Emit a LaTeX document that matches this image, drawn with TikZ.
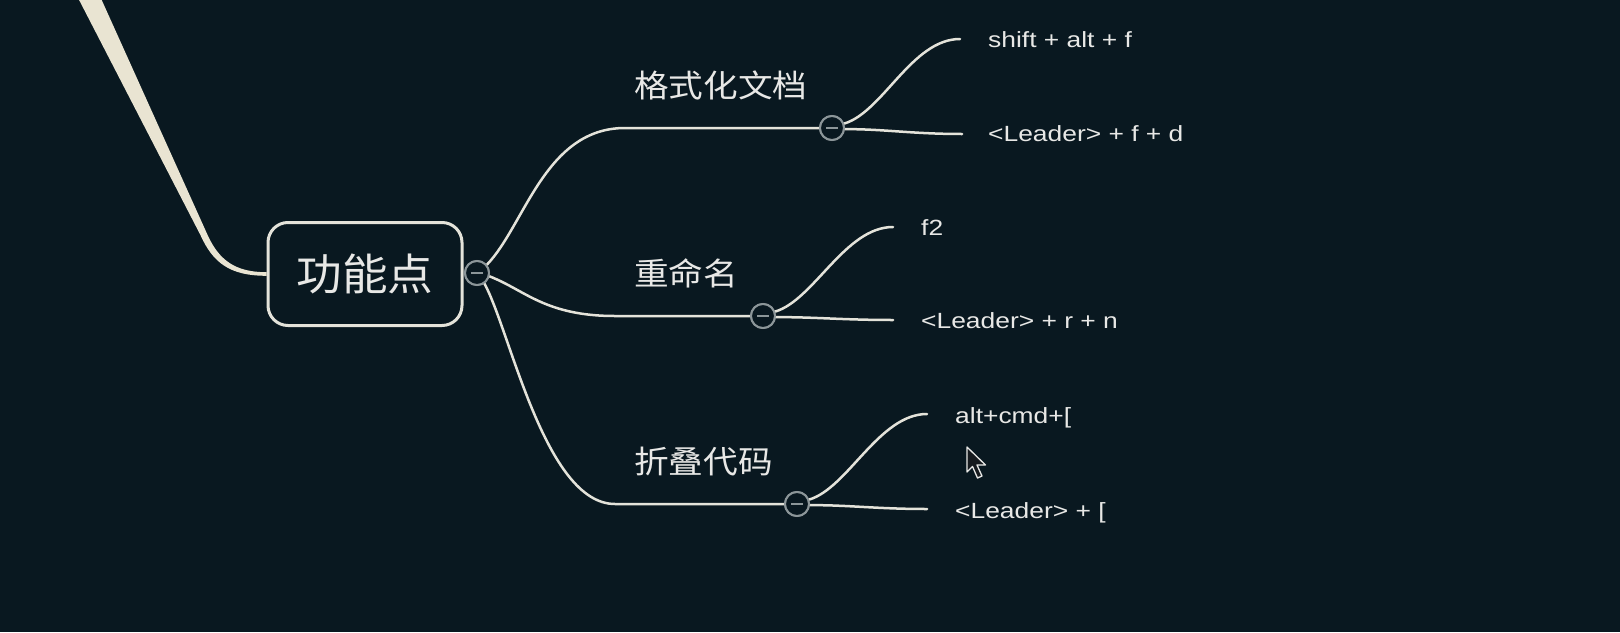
\documentclass[tikz,border=0pt]{standalone}
\usepackage{fontspec}
\setmainfont{Liberation Sans}
\newfontfamily\latf[FakeStretch=1.2]{Liberation Sans}
\newfontfamily\cjkf[FakeStretch=1.1]{Noto Sans CJK SC}
\newfontfamily\cjkrootf[FakeStretch=1.05]{Noto Sans CJK SC}
\definecolor{bg}{RGB}{9,24,32}
\definecolor{linec}{RGB}{228,227,218}
\definecolor{thickc}{RGB}{233,228,210}
\definecolor{txtc}{RGB}{232,232,230}
\definecolor{circc}{RGB}{140,150,153}
\definecolor{curfill}{RGB}{22,26,30}
\tikzset{
  conn/.style={draw=linec, line width=2.5pt, line cap=round},
  rootbox/.style={draw=linec, line width=3pt, rounded corners=20pt, fill=bg,
    minimum width=194pt, minimum height=103pt, inner sep=0pt, text=txtc,
    font=\cjkrootf\fontsize{43.5}{50}\selectfont},
  collapse/.style={circle, draw=circc, line width=2pt, fill=bg, minimum size=24pt, inner sep=0pt,
    path picture={\draw[circc, line width=2.6pt]
      ([xshift=-6pt]path picture bounding box.center) -- ([xshift=6pt]path picture bounding box.center);}},
  topic/.style={anchor=base west, inner sep=0pt, text=txtc, font=\cjkf\fontsize{31.5}{36}\selectfont},
  leaf/.style={anchor=base west, inner sep=0pt, text=txtc, font=\latf\fontsize{22}{26}\selectfont},
}
\begin{document}
\begin{tikzpicture}[x=1pt, y=-1pt]
\useasboundingbox (0,0) rectangle (1620,632);
\fill[bg] (0,0) rectangle (1620,632);
\clip (0,0) rectangle (1620,632);

% root node
\node[rootbox] (root) at (365,274) {功能点};

% tapering line coming from the parent above
\fill[thickc] (76,-6) -- (200.4,235)
  .. controls (213,263) and (230,275.8) .. ([yshift=-1.8pt]root.west)
  -- ([yshift=1.8pt]root.west)
  .. controls (235,272.2) and (219,260) .. (207.6,235) -- (99,-6) -- cycle;

% collapse buttons
\coordinate (k1) at (625,128);
\coordinate (k2) at (615,316);
\coordinate (k3) at (615,504);
\node[collapse] (c0) at (477,273) {};
\node[collapse] (c1) at (832,128) {};
\node[collapse] (c2) at (763,316) {};
\node[collapse] (c3) at (797,504) {};

% main branches
\draw[conn] (c0.40) .. controls (525,225) and (545,128) .. (k1) -- (c1.west);
\draw[conn] (c0.-15) .. controls (525,290) and (545,316) .. (k2) -- (c2.west);
\draw[conn] (c0.-55) .. controls (510,330) and (545,504) .. (k3) -- (c3.west);

% leaf ends
\coordinate (e1a) at (960,39);
\coordinate (e1b) at (962,134);
\coordinate (e2a) at (893,227);
\coordinate (e2b) at (893,320);
\coordinate (e3a) at (927,414);
\coordinate (e3b) at (927,509);

\draw[conn] (c1.20) .. controls (883,112) and (912,39) .. (e1a);
\draw[conn] (c1.-5) .. controls (884,129) and (912,134) .. (e1b);
\draw[conn] (c2.20) .. controls (814,300) and (845,227) .. (e2a);
\draw[conn] (c2.-5) .. controls (815,317) and (843,320) .. (e2b);
\draw[conn] (c3.20) .. controls (848,488) and (879,414) .. (e3a);
\draw[conn] (c3.-5) .. controls (849,505) and (877,509) .. (e3b);

% redraw circles on top
\node[collapse] at (c0) {};
\node[collapse] at (c1) {};
\node[collapse] at (c2) {};
\node[collapse] at (c3) {};

% topic labels
\node[topic] (t1) at (634,97) {格式化文档};
\node[topic] (t2) at (634,285) {重命名};
\node[topic] (t3) at (634,473) {折叠代码};

% leaf labels
\node[leaf] (l1a) at (988,47) {shift + alt + f};
\node[leaf] (l1b) at (988,141) {<Leader> + f + d};
\node[leaf] (l2a) at (921,235) {f2};
\node[leaf] (l2b) at (921,328) {<Leader> + r + n};
\node[leaf] (l3a) at (955,423) {alt+cmd+[};
\node[leaf] (l3b) at (955,518) {<Leader> + [};

% mouse cursor
\filldraw[fill=curfill, draw=txtc, line width=1.3pt, line join=round]
  (967,447) -- (967,472) -- (972.5,466.5) -- (977.5,478) -- (982,476)
  -- (977,465) -- (985.5,465) -- cycle;
\end{tikzpicture}
\end{document}
